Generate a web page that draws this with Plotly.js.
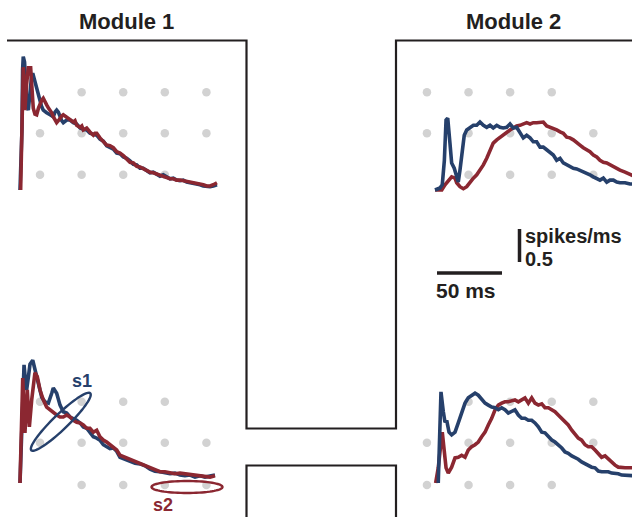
<!DOCTYPE html>
<html><head><meta charset="utf-8">
<script src="https://cdn.plot.ly/plotly-3.0.1.min.js"></script>
<style>html,body{margin:0;padding:0;background:#fff;}#chart{width:632px;height:517px;}</style>
</head><body><div id="chart"></div>
<script>
// ---------- DATA (time in ms, rate in spikes/ms) ----------
const moduleTitles = ["Module 1", "Module 2"];
const timeScaleLabel = "50 ms";
const rateScaleLabel = "spikes/ms";
const rateScaleValue = "0.5";
const timeScaleMs = 50;
const rateScaleVal = 0.5;
const ellipseLabels = ["s1", "s2"];

// Module 1, top
const m1TopBlueT = [0,1.5,2.0,2.5,3.5,4.2,5.2,6.4,7.7,8.8,9.8,11.2,12.8,14.1,15.4,16.7,17.9,19.2,20.5,23.1,25.6,26.9,28.2,29.5,30.8,32.1,33.3,34.6,35.9,38.5,41.0,43.6,46.2,48.7,51.3,53.8,56.4,59.0,61.5,64.1,66.7,69.2,71.8,74.4,76.9,79.5,82.1,84.6,87.2,89.8,92.3,94.8,97.5,100,102.5,105.2,107.7,110.2,112.8,115.4,117.9,120.5,123.1,125.6,128.2,130.8,133.3,135.9,138.5,141.0,143.6,146.2,148.7,151.5];
const m1TopBlueR = [0,0.91,1.82,2.02,1.94,1.59,1.29,1.21,1.48,1.70,1.77,1.67,1.55,1.44,1.33,1.26,1.21,1.18,1.17,1.14,1.11,1.18,1.21,1.18,1.11,1.05,1.02,1.05,1.06,1.06,1.02,1.00,0.94,0.92,0.91,0.86,0.85,0.83,0.77,0.74,0.67,0.65,0.62,0.56,0.55,0.50,0.48,0.44,0.39,0.38,0.33,0.33,0.30,0.26,0.27,0.23,0.21,0.23,0.20,0.17,0.18,0.15,0.14,0.15,0.12,0.11,0.11,0.09,0.08,0.06,0.05,0.05,0.06,0.08];
const m1TopRedT = [0.5,1.5,2.5,3.2,3.8,5.0,6.4,8.2,9.2,10.2,11.5,12.8,14.2,15.4,16.7,17.9,19.2,20.5,21.9,23.1,24.4,25.6,26.9,28.2,29.5,30.8,32.1,33.3,34.6,35.9,37.2,38.5,41.0,42.3,43.6,46.2,47.5,48.7,51.3,53.8,56.4,57.7,59.0,61.5,64.1,66.7,69.2,71.8,74.4,76.9,79.5,82.1,84.6,87.2,89.8,92.3,94.8,97.5,100,102.5,105.2,107.7,110.2,112.8,115.4,117.9,120.5,123.1,125.6,128.2,130.8,133.3,135.9,138.5,141.0,143.6,146.2,148.7,151.5];
const m1TopRedR = [0,1.06,1.86,1.67,1.21,1.59,1.85,1.85,1.52,1.24,1.15,1.14,1.24,1.32,1.36,1.39,1.35,1.29,1.24,1.21,1.17,1.11,1.06,1.02,1.05,1.09,1.12,1.14,1.12,1.11,1.08,1.06,1.03,1.05,0.98,0.95,0.97,0.91,0.94,0.88,0.83,0.86,0.86,0.79,0.73,0.68,0.67,0.64,0.58,0.56,0.52,0.47,0.42,0.41,0.36,0.35,0.32,0.29,0.27,0.26,0.24,0.23,0.21,0.18,0.17,0.17,0.15,0.15,0.14,0.14,0.12,0.11,0.11,0.09,0.08,0.06,0.06,0.08,0.11];

// Module 1, bottom
const m1BotBlueT = [0,1.5,3.1,4.2,5.1,6.4,7.7,9.8,11.5,14.1,16.7,19.2,21.8,24.4,25.6,28.2,30.8,33.3,35.9,38.5,41.0,43.6,46.2,48.7,51.3,53.8,56.4,59.0,61.5,64.1,66.7,69.2,71.8,74.4,76.9,80.8,84.6,88.5,92.3,96.2,100,103.8,107.7,111.5,115.4,119.2,123.1,126.9,130.8,134.6,138.5,142.3,146.2,150];
const m1BotBlueR = [0,0.90,1.79,1.55,1.41,1.60,1.80,1.86,1.71,1.52,1.30,1.23,1.21,1.36,1.44,1.36,1.18,1.08,1.06,1.00,0.98,0.95,0.91,0.85,0.83,0.77,0.70,0.68,0.65,0.58,0.55,0.52,0.53,0.48,0.39,0.36,0.33,0.30,0.29,0.26,0.21,0.18,0.17,0.15,0.14,0.15,0.12,0.11,0.12,0.09,0.11,0.09,0.11,0.12];
const m1BotRedT = [0,2.1,3.8,5.6,7.2,9.0,11.5,13.3,15.4,17.9,20.5,23.1,25.6,28.2,30.8,33.3,35.9,38.5,41.0,43.6,46.2,48.7,51.3,53.8,56.4,59.0,61.5,64.1,66.7,69.2,71.8,74.4,76.9,80.8,84.6,88.5,92.3,96.2,100,103.8,107.7,111.5,115.4,119.2,123.1,126.9,130.8,134.6,138.5,142.3,146.2,150];
const m1BotRedR = [0,1.59,0.76,1.41,0.85,1.26,1.67,1.61,1.41,1.26,1.15,1.11,1.06,1.03,1.00,1.00,1.03,1.00,0.95,0.92,0.91,0.88,0.83,0.83,0.77,0.80,0.70,0.65,0.62,0.58,0.55,0.50,0.42,0.39,0.35,0.32,0.30,0.27,0.23,0.20,0.17,0.17,0.15,0.14,0.15,0.14,0.12,0.11,0.11,0.09,0.09,0.11];

// Module 2, top
const m2TopBlueT = [0,3.8,5.6,7.2,8.5,9.8,11.5,12.8,14.8,16.7,17.9,19.2,21.0,22.5,24.4,26.9,29.5,32.1,34.6,37.2,39.8,42.3,44.8,47.5,50.0,52.5,55.2,57.7,60.2,62.8,65.4,67.9,70.5,73.1,75.6,78.2,80.8,83.3,85.9,88.5,91.0,93.6,96.2,98.7,101.3,103.8,106.4,109.0,111.5,114.1,116.7,119.2,121.8,124.4,126.9,129.5,132.1,134.6,137.2,139.8,142.3,146.2,150.0,153];
const m2TopBlueR = [0,0.03,0.08,0.45,1.06,1.09,0.71,0.41,0.33,0.20,0.12,0.30,0.65,0.83,0.91,0.95,0.98,0.98,1.03,0.98,0.95,0.98,0.94,0.98,0.95,0.94,0.95,1.00,0.94,0.95,0.88,0.79,0.83,0.79,0.73,0.73,0.65,0.65,0.61,0.56,0.53,0.45,0.48,0.41,0.38,0.35,0.33,0.32,0.30,0.27,0.26,0.23,0.20,0.18,0.15,0.18,0.12,0.15,0.15,0.12,0.11,0.11,0.09,0.09];
const m2TopRedT = [0,5.2,7.7,10.2,12.8,15.4,16.7,19.2,21.8,24.4,26.9,29.5,32.1,34.6,37.2,39.8,42.3,44.8,47.5,50.0,52.5,55.2,57.7,60.2,62.8,65.4,67.9,70.5,73.1,75.6,78.2,80.8,83.3,85.9,88.5,91.0,93.6,96.2,98.7,101.3,103.8,106.4,109.0,111.5,114.1,116.7,119.2,121.8,124.4,126.9,129.5,132.1,134.6,137.2,139.8,142.3,146.2,150.0,153];
const m2TopRedR = [0,0,0.08,0.15,0.20,0.18,0.11,0.05,0.02,0.05,0.12,0.18,0.23,0.30,0.38,0.48,0.61,0.71,0.76,0.80,0.83,0.88,0.91,0.94,0.97,0.98,1.00,1.02,1.00,1.02,1.02,1.02,1.03,0.97,0.95,0.94,0.91,0.88,0.86,0.80,0.79,0.76,0.71,0.68,0.64,0.61,0.58,0.53,0.50,0.45,0.42,0.41,0.38,0.35,0.33,0.30,0.27,0.23,0.21];

// Module 2, bottom
const m2BotBlueT = [2.5,4.6,6.4,7.7,9.0,10.8,12.8,15.4,17.9,20.5,23.1,25.6,28.2,30.8,33.3,35.9,38.5,41.0,43.6,46.2,48.7,51.3,53.8,56.4,59.0,61.5,64.1,66.7,69.2,71.8,74.4,76.9,79.5,82.1,84.6,87.2,89.8,92.3,94.8,97.5,100.0,102.5,105.2,107.7,110.2,112.8,115.4,117.9,120.5,123.1,125.6,128.2,130.8,133.3,135.9,138.5,141.0,143.6,146.2,150.0,153];
const m2BotBlueR = [0,1.38,1.08,0.92,0.95,0.77,0.73,0.77,0.91,1.06,1.21,1.29,1.33,1.36,1.33,1.26,1.21,1.18,1.15,1.14,1.11,1.14,1.11,1.06,1.08,1.11,1.03,0.98,0.98,0.95,0.95,0.91,0.85,0.77,0.76,0.70,0.65,0.62,0.58,0.53,0.47,0.45,0.41,0.39,0.36,0.32,0.29,0.26,0.24,0.23,0.18,0.17,0.17,0.17,0.15,0.15,0.14,0.12,0.12,0.11,0.11];
const m2BotRedT = [0.5,2.5,4.6,5.6,7.2,8.5,10.2,12.8,15.4,17.9,20.5,23.1,25.6,28.2,30.8,33.3,35.9,38.5,41.0,43.6,46.2,48.7,51.3,53.8,56.4,59.0,61.5,64.1,66.7,69.2,71.8,74.4,76.9,79.5,82.1,84.6,87.2,89.8,92.3,94.8,97.5,100.0,102.5,105.2,107.7,110.2,112.8,115.4,117.9,120.5,123.1,125.6,128.2,130.8,133.3,135.9,138.5,141.0,143.6,146.2,150.0,153];
const m2BotRedR = [0,0.23,0.61,0.77,0.47,0.23,0.15,0.24,0.38,0.39,0.42,0.39,0.50,0.55,0.58,0.62,0.70,0.77,0.88,0.98,1.11,1.18,1.21,1.23,1.23,1.24,1.26,1.23,1.26,1.29,1.21,1.29,1.21,1.18,1.20,1.14,1.14,1.11,1.08,1.03,0.98,0.92,0.88,0.80,0.73,0.68,0.65,0.58,0.55,0.55,0.50,0.45,0.39,0.41,0.36,0.32,0.27,0.24,0.23,0.23,0.23,0.23];

// Background dot grid (5 columns x 3 rows, two opposite corners absent)
const gridColsM1 = [15.4,47.4,79.4,111.4,143.4];
const gridColsM2 = [-6.2,25.8,57.8,89.8,121.8];
const gridRowsTop = [1.48,0.86,0.23];
const gridRowsBot = [1.23,0.61,-0.03];
const gridMissingA = [[0,0],[4,2]];
const gridMissingB = [[4,0],[0,2]];

// ---------- LAYOUT HELPERS ----------
const W = 632, H = 517;
const pxX = p => p / W;
const pxY = p => 1 - p / H;
const PX_PER_MS = 1.3, PX_PER_RATE = 66;
const blue = '#26406b', red = '#8b2731', ink = '#231f20', dotCol = '#d2d2d2';
const FONT = 'Liberation Sans, Arial, Helvetica, sans-serif';

function xAxisFor(startPx, d0, d1) {
  return {domain: [pxX(d0), pxX(d1)], range: [(d0 - startPx) / PX_PER_MS, (d1 - startPx) / PX_PER_MS],
          visible: false, fixedrange: true};
}
function yAxisFor(basePx, d0, d1) {
  return {domain: [pxY(d1), pxY(d0)], range: [(basePx - d1) / PX_PER_RATE, (basePx - d0) / PX_PER_RATE],
          visible: false, fixedrange: true};
}

function dots(cols, rows, missing, xa, ya) {
  const x = [], y = [];
  rows.forEach((r, ri) => cols.forEach((c, ci) => {
    if (!missing.some(m => m[0] === ci && m[1] === ri)) { x.push(c); y.push(r); }
  }));
  return {x, y, xaxis: xa, yaxis: ya, mode: 'markers', type: 'scatter', cliponaxis: false,
          marker: {size: 8.5, color: dotCol}, hoverinfo: 'skip', showlegend: false};
}
function line(x, y, color, xa, ya) {
  return {x, y, xaxis: xa, yaxis: ya, mode: 'lines', type: 'scatter',
          line: {color, width: 3.6, shape: 'linear'}, hoverinfo: 'skip', showlegend: false};
}

const traces = [
  dots(gridColsM1, gridRowsTop, gridMissingA, 'x', 'y'),
  line(m1TopBlueT, m1TopBlueR, blue, 'x', 'y'),
  line(m1TopRedT, m1TopRedR, red, 'x', 'y'),
  dots(gridColsM2, gridRowsTop, gridMissingB, 'x2', 'y2'),
  line(m2TopRedT, m2TopRedR, red, 'x2', 'y2'),
  line(m2TopBlueT, m2TopBlueR, blue, 'x2', 'y2'),
  dots(gridColsM1, gridRowsBot, gridMissingB, 'x3', 'y3'),
  line(m1BotBlueT, m1BotBlueR, blue, 'x3', 'y3'),
  line(m1BotRedT, m1BotRedR, red, 'x3', 'y3'),
  dots(gridColsM2, gridRowsBot, gridMissingA, 'x4', 'y4'),
  line(m2BotRedT, m2BotRedR, red, 'x4', 'y4'),
  line(m2BotBlueT, m2BotBlueR, blue, 'x4', 'y4'),
];

// Scale bars drawn in Module 2 top-panel data units
const barT0 = (437 - 435) / PX_PER_MS, barY = (190 - 273) / PX_PER_RATE;
const vBarT = (519.5 - 435) / PX_PER_MS, vBarY0 = (190 - 262) / PX_PER_RATE;
traces.push({x: [barT0, barT0 + timeScaleMs], y: [barY, barY], xaxis: 'x2', yaxis: 'y2', mode: 'lines',
  line: {color: ink, width: 3.5}, hoverinfo: 'skip', showlegend: false, cliponaxis: false});
traces.push({x: [vBarT, vBarT], y: [vBarY0, vBarY0 + rateScaleVal], xaxis: 'x2', yaxis: 'y2', mode: 'lines',
  line: {color: ink, width: 3.5}, hoverinfo: 'skip', showlegend: false, cliponaxis: false});

// Frame lines (paper coords)
function pathPx(pts) {
  return pts.map((p, i) => (i ? 'L' : 'M') + pxX(p[0]).toFixed(5) + ',' + pxY(p[1]).toFixed(5)).join(' ');
}
function ellipsePath(cx, cy, a, b, angDeg) {
  const th = angDeg * Math.PI / 180, pts = [];
  for (let i = 0; i <= 72; i++) {
    const u = i / 72 * 2 * Math.PI;
    const ex = a * Math.cos(u), ey = b * Math.sin(u);
    pts.push([cx + ex * Math.cos(th) - ey * Math.sin(th), cy - (ex * Math.sin(th) + ey * Math.cos(th))]);
  }
  return pathPx(pts) + ' Z';
}
const frameStyle = {color: ink, width: 2.2};
const shapes = [
  {type: 'path', xref: 'paper', yref: 'paper', path: pathPx([[7,40.5],[246.5,40.5],[246.5,428.5],[396,428.5],[396,40.5],[640,40.5]]), line: frameStyle},
  {type: 'path', xref: 'paper', yref: 'paper', path: pathPx([[246.5,530],[246.5,465.5],[396,465.5],[396,530]]), line: frameStyle},
  {type: 'path', xref: 'paper', yref: 'paper', path: ellipsePath(60.8, 421.8, 41, 7.5, 44), line: {color: blue, width: 2.4}},
  {type: 'path', xref: 'paper', yref: 'paper', path: ellipsePath(187, 487, 35.5, 6, 0), line: {color: red, width: 2.4}},
];

function txt(text, x, y, size, color, xanchor) {
  return {text, x: pxX(x), y: pxY(y), xref: 'paper', yref: 'paper', showarrow: false,
          xanchor: xanchor || 'center', yanchor: 'middle', borderpad: 0,
          font: {family: FONT, size, color: color || ink, weight: 700}};
}
const annotations = [
  txt(moduleTitles[0], 126, 21, 22),
  txt(moduleTitles[1], 513, 21, 22),
  txt(rateScaleLabel, 524, 236, 20, ink, 'left'),
  txt(rateScaleValue, 524, 259, 20, ink, 'left'),
  txt(timeScaleLabel, 435, 290, 21, ink, 'left'),
  txt(ellipseLabels[0], 82, 381, 18, blue),
  txt(ellipseLabels[1], 162.5, 505, 18, red),
];

const layout = {
  width: W, height: H, margin: {l: 0, r: 0, t: 0, b: 0}, showlegend: false,
  paper_bgcolor: '#fff', plot_bgcolor: 'rgba(0,0,0,0)',
  xaxis:  xAxisFor(20, 10, 240),   yaxis:  yAxisFor(190, 45, 300),
  xaxis2: xAxisFor(435, 415, 632), yaxis2: yAxisFor(190, 45, 300),
  xaxis3: xAxisFor(20, 10, 240),   yaxis3: yAxisFor(483, 340, 500),
  xaxis4: xAxisFor(435, 415, 632), yaxis4: yAxisFor(483, 340, 500),
  shapes, annotations,
};
Plotly.newPlot('chart', traces, layout, {staticPlot: true, displayModeBar: false});
</script></body></html>
